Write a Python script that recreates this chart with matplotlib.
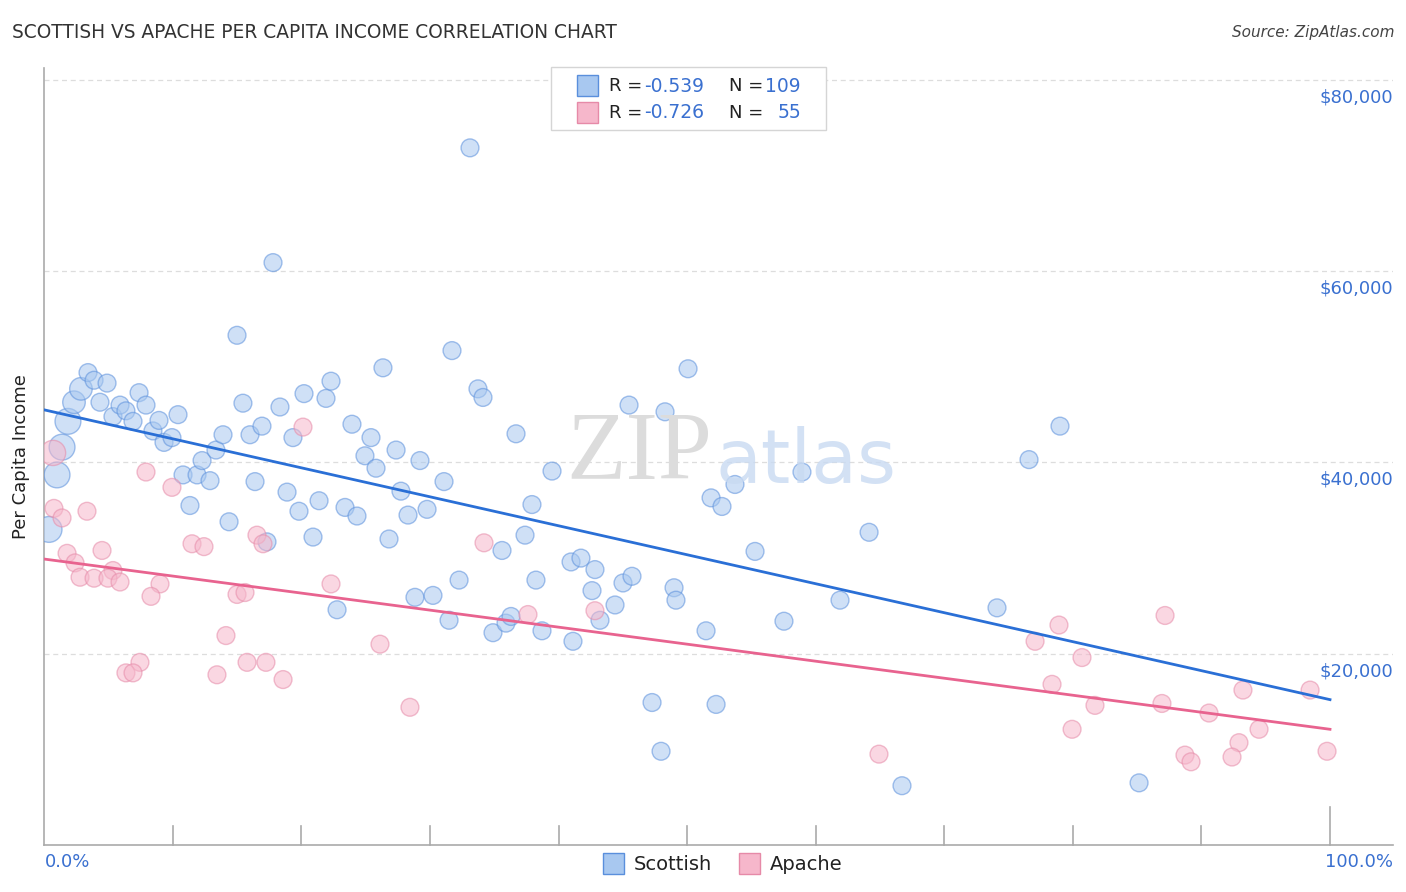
import matplotlib
matplotlib.use("Agg")
import matplotlib.pyplot as plt
import matplotlib.transforms as mtransforms
from matplotlib.patches import Rectangle
import numpy as np

plt.rcParams['font.family'] = ['DejaVu Sans']

# Scottish (blue) points: x share in %, per capita income in $
scot_x = [0.37, 0.99, 1.38, 1.84, 2.31, 2.85, 3.40, 3.87, 4.88, 4.33,
          5.34, 5.89, 6.35, 6.90, 7.37, 7.91, 8.45, 8.92, 9.31, 9.93,
          10.40, 10.79, 11.33, 11.88, 12.27, 12.89, 13.35, 13.90, 14.37, 14.99,
          15.45, 16.00, 16.39, 16.93, 17.32, 17.79, 18.33, 18.88, 19.34, 19.81,
          20.20, 20.90, 21.37, 21.91, 22.30, 22.77, 23.39, 23.93, 24.32, 24.94,
          25.41, 25.80, 26.34, 26.81, 27.36, 27.74, 28.29, 28.83, 29.22, 29.77,
          30.23, 31.09, 31.48, 31.71, 32.26, 33.11, 33.73, 34.12, 34.90, 35.60,
          35.91, 36.30, 36.69, 37.39, 37.93, 38.24, 38.71, 39.49, 40.97, 41.12,
          41.74, 42.60, 42.83, 43.22, 44.39, 45.01, 45.48, 45.71, 47.27, 47.97,
          48.28, 48.98, 49.13, 50.07, 51.47, 51.86, 52.25, 52.71, 53.72, 55.28,
          57.53, 58.93, 61.89, 64.15, 66.71, 74.10, 76.59, 79.00, 85.15]
scot_y = [33000, 38700, 41600, 44300, 46300, 47700, 49400, 48600, 48300, 46300,
          44800, 46000, 45400, 44300, 47300, 46000, 43300, 44400, 42100, 42600,
          45000, 38700, 35500, 38700, 40200, 38100, 41300, 42900, 33800, 53300,
          46200, 42900, 38000, 43800, 31700, 60900, 45800, 36900, 42600, 34900,
          47200, 32200, 36000, 46700, 48500, 24600, 35300, 44000, 34400, 40700,
          42600, 39400, 49900, 32000, 41300, 37000, 34500, 25900, 40200, 35100,
          26100, 38000, 23500, 51700, 27700, 72900, 47700, 46800, 22200, 30800,
          23200, 23900, 43000, 32400, 35600, 27700, 22400, 39100, 29600, 21300,
          30000, 26600, 28800, 23500, 25100, 27400, 46000, 28100, 14900, 9800,
          45300, 26900, 25600, 49800, 22400, 36300, 14700, 35400, 37700, 30700,
          23400, 39000, 25600, 32700, 6200, 24800, 40300, 43800, 6500]
# relative weight (bubble size) of each point
scot_w = [2.1, 2.1, 2.1, 2.1, 1.6, 1.6] + [1.0] * 103

# Apache (pink) points
apa_x = [0.68, 0.75, 1.38, 3.32, 1.77, 2.39, 4.49, 2.78, 3.87, 5.34,
         4.95, 5.89, 7.91, 9.93, 9.00, 8.30, 11.49, 12.42, 16.54, 17.01,
         14.99, 15.61, 20.12, 22.30, 14.13, 26.11, 7.44, 6.35, 6.90, 13.43,
         15.77, 17.24, 18.57, 28.44, 34.20, 37.62, 42.83, 64.92, 87.17, 78.92,
         77.06, 80.71, 78.38, 98.45, 93.23, 81.72, 86.93, 90.59, 79.94, 94.48,
         92.92, 88.72, 89.19, 92.38, 99.77]
apa_y = [41000, 35200, 34200, 34900, 30500, 29500, 30800, 28000, 27900, 28700,
         27900, 27500, 39000, 37400, 27300, 26000, 31500, 31200, 32400, 31500,
         26200, 26400, 43700, 27300, 21900, 21000, 19100, 18000, 18000, 17800,
         19100, 19100, 17300, 14400, 31600, 24100, 24500, 9500, 24000, 23000,
         21300, 19600, 16800, 16200, 16200, 14600, 14800, 13800, 12100, 12100,
         10700, 9400, 8700, 9200, 9800]
apa_w = [2.0] + [1.0] * 54

# trend lines (value at 0% and at 100%)
scot_trend = [45500, 15200]
apa_trend = [29900, 12100]

scot_r, scot_n = "-0.539", "109"
apa_r, apa_n = "-0.726", "55"

y_ticks = [20000, 40000, 60000, 80000]
y_tick_labels = ["$20,000", "$40,000", "$60,000", "$80,000"]
x_ticks = [10, 20, 30, 40, 50, 60, 70, 80, 90, 100]

BLUE_FACE = "#a8c8f0"
BLUE_EDGE = "#5a8fdc"
PINK_FACE = "#f6b7cb"
PINK_EDGE = "#e68aa8"
BLUE_LINE = "#2a6fd6"
PINK_LINE = "#e8638f"
LABEL_BLUE = "#3a70d0"

W, H = 1406, 892
fig = plt.figure(figsize=(W / 100, H / 100), dpi=100)
ax = fig.add_axes([44.3 / W, 1 - 845 / H, (1393 - 44.3) / W, (845 - 68) / H])

ax.set_xlim(0, 104.9)
ax.set_ylim(0, 81250)

base = 165
ax.scatter(scot_x, scot_y, s=np.array(scot_w) * base, facecolor=BLUE_FACE,
           edgecolor=BLUE_EDGE, linewidth=1.0, alpha=0.55, zorder=3)
ax.scatter(apa_x, apa_y, s=np.array(apa_w) * base, facecolor=PINK_FACE,
           edgecolor=PINK_EDGE, linewidth=1.0, alpha=0.55, zorder=3)

ax.plot([0, 100], scot_trend, color=BLUE_LINE, lw=2, zorder=4)
ax.plot([0, 100], apa_trend, color=PINK_LINE, lw=2, zorder=4)

# grid
for v in y_ticks:
    ax.axhline(v, color="#dddddd", lw=0.9, ls=(0, (4, 3)), zorder=1)

# y labels, right side under the grid line
tr = mtransforms.blended_transform_factory(ax.transAxes, ax.transData)
off = mtransforms.offset_copy(tr, fig=fig, x=0, y=-6, units='points')
for v, lab in zip(y_ticks, y_tick_labels):
    ax.text(1.0, v, lab, transform=off, ha='right', va='top',
            fontsize=13, color=LABEL_BLUE)

ax.set_xticks([])
ax.set_yticks([])
for s in ["top", "right"]:
    ax.spines[s].set_visible(False)
for s in ["left", "bottom"]:
    ax.spines[s].set_color("#aaaaaa")
    ax.spines[s].set_linewidth(1.2)

# tick marks rising from the bottom axis
trx = mtransforms.blended_transform_factory(ax.transData, ax.transAxes)
for t in x_ticks:
    h = 38 / (845 - 68) if t == 100 else 19 / (845 - 68)
    ax.plot([t, t], [0, h], transform=trx, color="#aaaaaa", lw=1.2,
            clip_on=False, zorder=2)

fig.text(45 / W, 1 - 862 / H, "0.0%", fontsize=13, color=LABEL_BLUE,
         ha='left', va='center')
fig.text(1393 / W, 1 - 862 / H, "100.0%", fontsize=13, color=LABEL_BLUE,
         ha='right', va='center')

ax.set_ylabel("Per Capita Income", fontsize=13, color="#222222", labelpad=10)

# watermark
fig.text(712 / W, 1 - 456 / H, "ZIP", fontsize=70, family="Liberation Serif",
         color="#dcdcdc", ha='right', va='center', zorder=0)
fig.text(716 / W, 1 - 462 / H, "atlas", fontsize=54, color="#c8daf2",
         ha='left', va='center', zorder=0, alpha=0.8)

# title / source
fig.text(12 / W, 1 - 33 / H, "SCOTTISH VS APACHE PER CAPITA INCOME CORRELATION CHART",
         fontsize=13.4, color="#333333", ha='left', va='center')
fig.text(1394 / W, 1 - 33 / H, "Source: ZipAtlas.com", fontsize=11,
         color="#444444", ha='right', va='center', style='italic')

# top legend box
fig.patches.append(Rectangle((551 / W, 1 - 130 / H), 275 / W, 63 / H,
                             transform=fig.transFigure, facecolor="white",
                             edgecolor="#d5d5d5", lw=1, zorder=5))
rows = [(86, BLUE_FACE, BLUE_EDGE, scot_r, scot_n),
        (113, PINK_FACE, PINK_EDGE, apa_r, apa_n)]
for py, fc, ec, r, n in rows:
    fig.patches.append(Rectangle((577 / W, 1 - (py + 10) / H), 21 / W, 21 / H,
                                 transform=fig.transFigure, facecolor=fc,
                                 edgecolor=ec, lw=1, zorder=6))
    fig.text(609 / W, 1 - py / H, "R =", fontsize=13, color="#222222",
             ha='left', va='center', zorder=7)
    fig.text(644 / W, 1 - py / H, r, fontsize=13.5, color=LABEL_BLUE,
             ha='left', va='center', zorder=7)
    fig.text(729 / W, 1 - py / H, "N =", fontsize=13, color="#222222",
             ha='left', va='center', zorder=7)
    fig.text(801 / W, 1 - py / H, n, fontsize=13.5, color=LABEL_BLUE,
             ha='right', va='center', zorder=7)

# bottom legend
for px, fc, ec, name in [(603, BLUE_FACE, BLUE_EDGE, "Scottish"),
                         (739, PINK_FACE, PINK_EDGE, "Apache")]:
    fig.patches.append(Rectangle((px / W, 1 - 874 / H), 21 / W, 21 / H,
                                 transform=fig.transFigure, facecolor=fc,
                                 edgecolor=ec, lw=1))
    fig.text((px + 31) / W, 1 - 864 / H, name, fontsize=14, color="#222222",
             ha='left', va='center')

fig.savefig("out.png", dpi=100)
